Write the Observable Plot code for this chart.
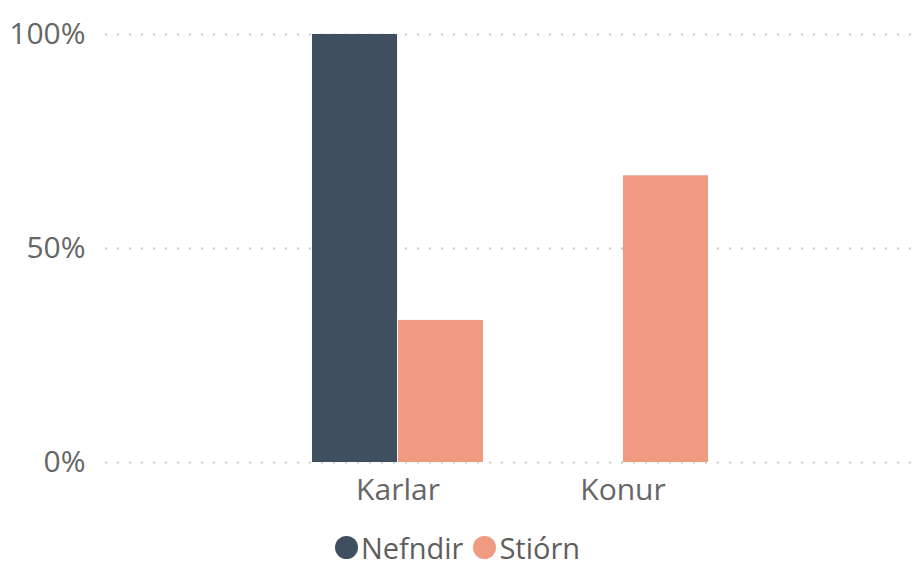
<!DOCTYPE html>
<html><head><meta charset="utf-8">
<script src="https://cdn.jsdelivr.net/npm/d3@7"></script>
<script src="https://cdn.jsdelivr.net/npm/@observablehq/plot@0.6"></script>
<style>
body{margin:0;background:#fff;font-family:"Open Sans",sans-serif;overflow:hidden;}
#chart svg{display:block;}
#legend{display:flex;justify-content:center;align-items:center;height:40px;font-size:29px;line-height:1;color:#605e5c;}
.item{display:flex;align-items:center;margin:0 5px;}
.sw{width:23px;height:23px;border-radius:50%;margin-right:3px;}
</style></head><body><div id="chart"></div><div id="legend"></div>
<script>
const groups = ["Karlar", "Konur"];
const series = ["Nefndir", "Stiórn"];
const nefndir = [1.0, 0];
const stjorn = [0.332, 0.67];
const colors = ["#404f60", "#f09a82"];
const yTicks = [0, 0.5, 1];

const data = groups.flatMap((g, i) => [
  {group: g, series: series[0], value: nefndir[i]},
  {group: g, series: series[1], value: stjorn[i]}
]);

const W = 915, ML = 105, MR = 0, PI = 0.239, PO = 0.912;
const step = (W - ML - MR) / (groups.length - PI + 2 * PO);
const half = step * (1 - PI) / 2;

const plot = Plot.plot({
  width: W, height: 527,
  marginLeft: ML, marginRight: MR, marginTop: 34, marginBottom: 65,
  style: {fontFamily: "Open Sans", fontSize: "30px", color: "#666", background: "white"},
  x: {domain: groups, paddingInner: PI, paddingOuter: PO, label: null, tickSize: 0, tickPadding: 16},
  y: {domain: [0, 1], ticks: yTicks, tickFormat: d3.format(".0%"), label: null, tickSize: 0, tickPadding: 20},
  color: {domain: series, range: colors},
  marks: [
    Plot.ruleY(yTicks, {stroke: "#c8c8c8", strokeWidth: 2, strokeDasharray: "2,10"}),
    Plot.barY(data.filter(d => d.series === series[0]), {x: "group", y: "value", fill: "series", insetRight: half}),
    Plot.barY(data.filter(d => d.series === series[1]), {x: "group", y: "value", fill: "series", insetLeft: half})
  ]
});
document.getElementById("chart").append(plot);

const legend = document.getElementById("legend");
series.forEach((s, i) => {
  const it = document.createElement("div");
  it.className = "item";
  const sw = document.createElement("span");
  sw.className = "sw";
  sw.style.background = colors[i];
  const t = document.createElement("span");
  t.textContent = s;
  it.append(sw, t);
  legend.append(it);
});
</script></body></html>
